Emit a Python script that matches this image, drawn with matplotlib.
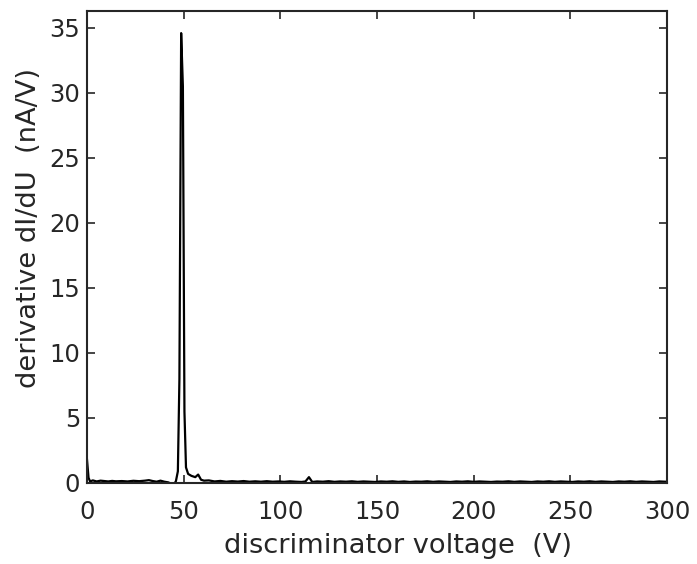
import numpy as np
import matplotlib
matplotlib.use("Agg")
import matplotlib.pyplot as plt

# discriminator voltage (V) and derivative dI/dU (nA/V)
voltage = [0, 0.8, 1.6, 3, 5, 7, 9, 11, 13, 15, 18, 21, 24, 27, 30, 32, 34, 36, 38,
           40, 42, 43.5, 45, 46, 47, 47.8, 48.7, 49.6, 50.4, 51.2, 52.3, 54, 56,
           57.5, 59, 60.5, 63, 66, 69, 72, 75, 78, 81, 84, 87, 90, 93, 96, 99,
           102, 105, 108, 111, 113, 114.8, 116.5, 119, 122, 125, 128, 131, 134,
           137, 140, 143, 146, 149, 152, 155, 158, 161, 164, 167, 170, 173, 176,
           179, 182, 185, 188, 191, 194, 197, 200, 203, 206, 209, 212, 215, 218,
           221, 224, 227, 230, 233, 236, 239, 242, 245, 248, 251, 254, 257, 260,
           263, 266, 269, 272, 275, 278, 281, 284, 287, 290, 293, 296, 299, 300]
deriv = [1.8, 0.4, 0.12, 0.2, 0.12, 0.18, 0.15, 0.12, 0.16, 0.13, 0.15, 0.12, 0.17,
         0.14, 0.18, 0.22, 0.15, 0.1, 0.18, 0.1, 0.05, -0.05, -0.12, 0.15, 0.9,
         8.0, 34.6, 30.5, 5.5, 1.2, 0.7, 0.55, 0.45, 0.65, 0.25, 0.18, 0.2, 0.12,
         0.16, 0.1, 0.14, 0.11, 0.15, 0.1, 0.13, 0.1, 0.14, 0.1, 0.12, 0.09, 0.13,
         0.1, 0.08, 0.12, 0.45, 0.08, 0.12, 0.1, 0.14, 0.09, 0.12, 0.1, 0.13, 0.09,
         0.12, 0.1, 0.08, 0.12, 0.1, 0.13, 0.09, 0.12, 0.08, 0.11, 0.1, 0.13, 0.09,
         0.12, 0.1, 0.08, 0.12, 0.1, 0.13, 0.09, 0.12, 0.1, 0.08, 0.11, 0.1, 0.13,
         0.09, 0.12, 0.1, 0.08, 0.12, 0.1, 0.13, 0.09, 0.12, 0.1, 0.08, 0.12, 0.1,
         0.13, 0.09, 0.12, 0.1, 0.08, 0.12, 0.1, 0.13, 0.09, 0.12, 0.1, 0.08, 0.12,
         0.1, 0.1]

xticks = [0, 50, 100, 150, 200, 250, 300]
yticks = [0, 5, 10, 15, 20, 25, 30, 35]

plt.rcParams['font.family'] = ['DejaVu Sans']
fig = plt.figure(figsize=(6.97, 5.64), dpi=100)
ax = fig.add_axes([87 / 697, 1 - 483 / 564, 580 / 697, 472 / 564])

ax.plot(voltage, deriv, color='black', linewidth=1.6)

ax.set_xlim(0, 300)
ax.set_ylim(0, 36.3)
ax.set_xticks(xticks)
ax.set_yticks(yticks)
ax.tick_params(direction='in', top=True, right=True, length=6, width=1.2,
               labelsize=17.5, colors='#262626')
ax.tick_params(axis='x', pad=12)
ax.tick_params(axis='y', pad=5)
for s in ax.spines.values():
    s.set_linewidth(1.5)
    s.set_color('#262626')

ax.set_xlabel('discriminator voltage  (V)', fontsize=19.6, color='#262626')
ax.set_ylabel('derivative dI/dU  (nA/V)', fontsize=19.6, color='#262626')
# label positions in the reference sit a little off-centre
ax.xaxis.set_label_coords(0.537, -0.105)
ax.yaxis.set_label_coords(-0.077, 0.54)

fig.savefig('out.png', dpi=100)
